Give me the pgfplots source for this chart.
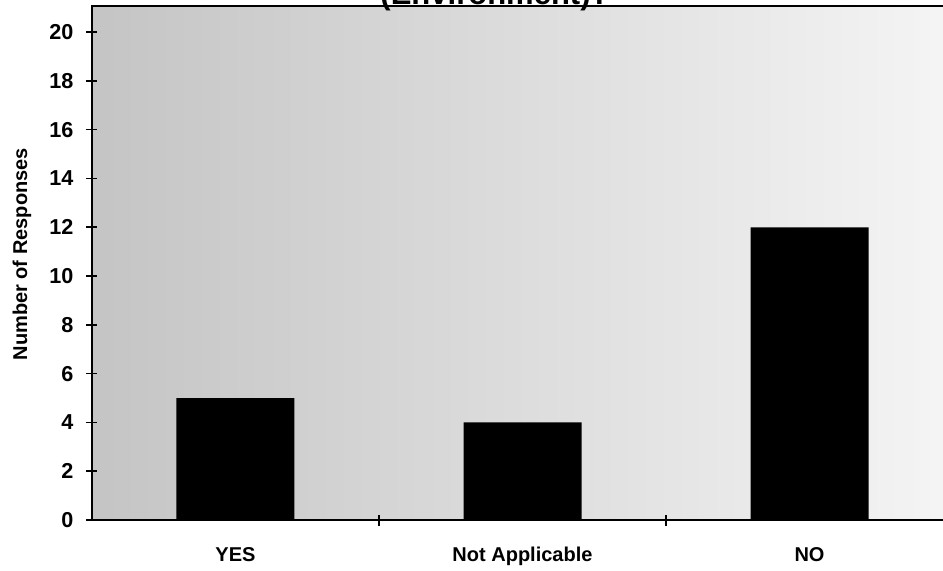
\documentclass[border=0pt]{standalone}
\usepackage{fontspec}
\setmainfont{Liberation Sans}
\usepackage{pgfplots}
\pgfplotsset{compat=1.18}
\begin{document}
\begin{tikzpicture}
\begin{axis}[%
name=ax,
at={(0pt,0pt)},
anchor=south west,
scale only axis,
width=430.5pt,
height=257pt,
xmin=0,
xmax=3,
ymin=0,
ymax=21.07,
ytick={0,2,...,20},
xtick={1,2},
xticklabels={},
extra x ticks={0.5,1.5,2.5},
extra x tick labels={YES,Not Applicable,NO},
extra x tick style={major tick length=0pt},
tick pos=left,
tick align=center,
major tick length=5.5pt,
tick style={black, line width=0.8pt},
axis line style={black, line width=1pt},
/pgf/number format/assume math mode=true,
ticklabel style={font=\bfseries\fontsize{10.8}{12}\selectfont},
yticklabel style={xshift=-3pt},
xticklabel style={font=\bfseries\fontsize{10}{12}\selectfont, text height=7.5pt, text depth=2pt, yshift=-9.5pt},
every axis y label/.style={at={(axis description cs:-0.0813,0.517)}, rotate=90, anchor=center},
ylabel={Number of Responses},
ylabel style={font=\bfseries\fontsize{10}{12}\selectfont},
axis background/.style={left color=black!23, middle color=black!12, right color=black!4},
]
\addplot [ybar, bar width=59pt, fill=black, draw=none]
  coordinates {(0.5,5) (1.5,4) (2.5,12)};
\end{axis}
\node[anchor=base, font=\bfseries\fontsize{15.5}{18}\selectfont] at (201.5pt,258pt) {(Environment)?};
\pgfresetboundingbox
\path[use as bounding box] (-46pt,-25pt) rectangle (425.5pt,260pt);
\end{tikzpicture}
\end{document}
